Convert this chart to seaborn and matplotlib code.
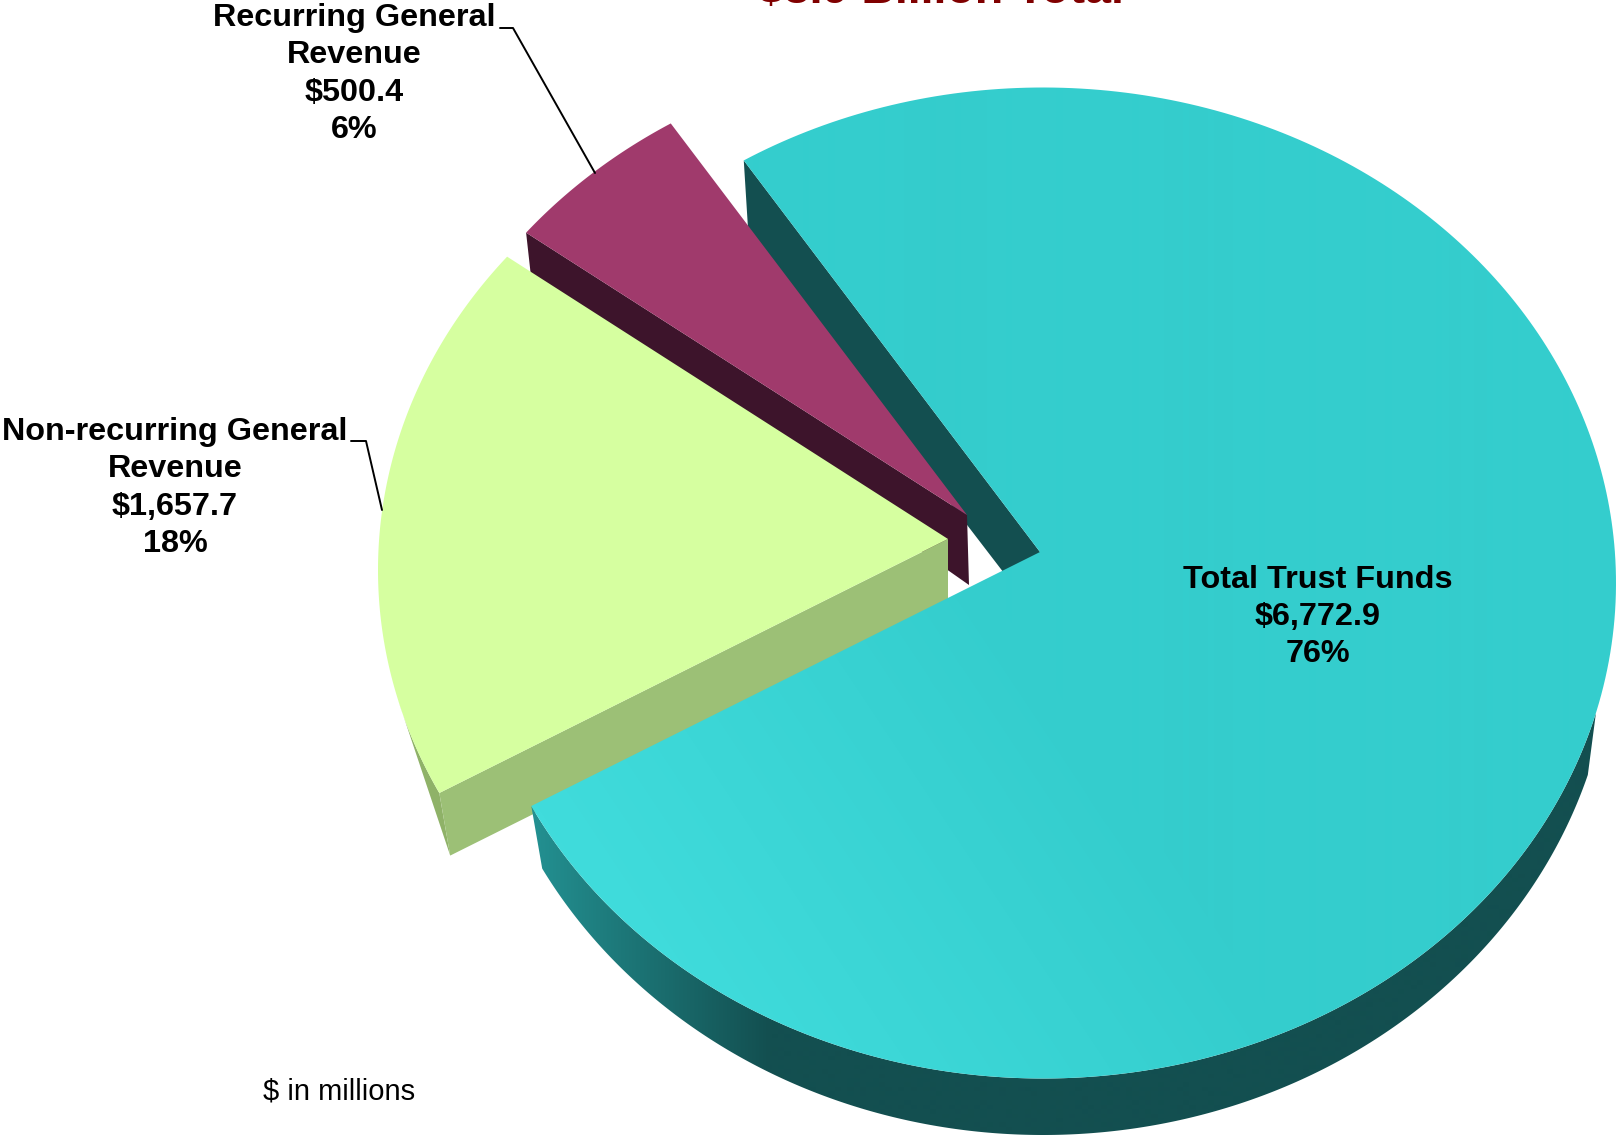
import numpy as np
import matplotlib
matplotlib.use('Agg')
import matplotlib.pyplot as plt
import seaborn as sns
from matplotlib.patches import Polygon
from matplotlib.colors import LinearSegmentedColormap

sources = ['Total Trust Funds', 'Non-recurring General\nRevenue', 'Recurring General\nRevenue']
amounts = [6772.9, 1657.7, 500.4]
percent_labels = ['76%', '18%', '6%']
amount_labels = ['$6,772.9', '$1,657.7', '$500.4']
title_text = '$8.9 Billion Total'
note_text = '$ in millions'

W, H = 1619, 1138
top_ell = (1043, 583, 573, 495.5)
bot_ell = (1043, 625, 570, 510)
apex_top = np.array([1040.0, 552.0])
apex_bot = np.array([1040.0, 620.0])
start_angle = 121.5
offsets = [(0, 0), (-92, -13), (-73, -37)]
top_colors = ['#36cfcf', '#d6ffa0', '#a03a6c']
cut_colors = ['#134f50', '#9cc076', '#3d142b']

sns.set_theme(style='white')
plt.rcParams['font.family'] = ['Liberation Sans', 'DejaVu Sans']


def rim(angles, ell, apex, off):
    cx, cy, rx, ry = ell
    pts = []
    for a in np.radians(angles):
        s = 0.81 if np.sin(a) > 0 else 0.92
        d = np.array([np.cos(a), -np.sin(a) * s])
        ox = (apex[0] - cx) / rx
        oy = (apex[1] - cy) / ry
        dx = d[0] / rx
        dy = d[1] / ry
        qa = dx ** 2 + dy ** 2
        qb = 2 * (ox * dx + oy * dy)
        qc = ox ** 2 + oy ** 2 - 1
        t = (-qb + np.sqrt(qb ** 2 - 4 * qa * qc)) / (2 * qa)
        pts.append(apex + t * d + np.array(off))
    return np.array(pts)


def gradient_fill(ax, pts, img, cmap, zorder):
    patch = Polygon(pts, closed=True, transform=ax.transData, fc='none', ec='none')
    ax.add_patch(patch)
    im = ax.imshow(img, extent=(0, W, H, 0), cmap=cmap, vmin=0, vmax=1, aspect='auto', zorder=zorder, interpolation='bilinear')
    im.set_clip_path(patch)


fig = plt.figure(figsize=(W / 100, H / 100), dpi=100)
ax = fig.add_axes([0, 0, 1, 1])
ax.set_axis_off()

shares = np.array(amounts) / np.sum(amounts)
edges = start_angle - np.concatenate([[0], np.cumsum(shares)]) * 360

# trust funds cut face at the back, then the two pulled out slices
a0, a1 = edges[0], edges[1]
tr = rim([a0], top_ell, apex_top, (0, 0))[0]
br = tr + np.array([5, 80])
ax.fill(*zip(tr, apex_top, apex_bot, br), color=cut_colors[0], lw=0, zorder=1)

# recurring slice
off = np.array(offsets[2])
arc = rim(np.linspace(edges[2], edges[3], 40), top_ell, apex_top, off)
tr = arc[0]
br = tr + np.array([5, 45])
ax.fill(*zip(tr, apex_top + off, apex_bot + off + np.array([2, 2]), br), color=cut_colors[2], lw=0, zorder=2)
ax.fill(*zip(apex_top + off, *arc), color=top_colors[2], lw=0, zorder=3)

# non recurring slice
off = np.array(offsets[1])
angs = np.linspace(edges[1], edges[2], 120)
arc = rim(angs, top_ell, apex_top, off)
arc_b = rim(angs, bot_ell, apex_bot, off)
k = np.argmin(np.abs(arc[:, 1] - 702))
ax.fill(*zip(*np.vstack([arc[:k + 1], arc_b[0]])), color='#8fb268', lw=0, zorder=4)
tr = arc[0]
br = arc_b[0]
ax.fill(*zip(tr, apex_top + off, apex_bot + off, br), color=cut_colors[1], lw=0, zorder=5)
ax.fill(*zip(apex_top + off, *arc), color=top_colors[1], lw=0, zorder=6)

# trust funds outer wall with shading along x, tapering into the rim on the right
angs = np.linspace(a1 + 360, 360, 400)
wall_top = rim(angs, top_ell, apex_top, (0, 0))
wall_bot = rim(angs, bot_ell, apex_bot, (0, 0))
k_top = len(angs) - 1 - np.argmin(np.abs(wall_top[::-1, 1] - 713))
k_bot = np.argmin(np.abs(wall_bot[:, 1] - 775) + 1000 * (wall_bot[:, 0] < 1043))
wall = np.vstack([wall_top[:k_top + 1], wall_bot[:k_bot + 1][::-1]])
xx = np.linspace(0, 1, W)
img = np.clip((xx * W - 530) / 240, 0, 1)[None, :]
wall_cmap = LinearSegmentedColormap.from_list('wall', ['#239192', '#134f50'])
gradient_fill(ax, wall, img, wall_cmap, 7)

# trust funds top face
angs = np.linspace(a0, a1, 300)
arc = rim(angs, top_ell, apex_top, (0, 0))
top = np.vstack([apex_top, arc])
yy, xx = np.mgrid[0:H, 0:W]
img = np.clip(((xx - 530) / 600 + (800 - yy) / 900), 0, 1)
top_cmap = LinearSegmentedColormap.from_list('top', ['#40dcdc', '#34cdcd'])
gradient_fill(ax, top, img, top_cmap, 8)

# leader lines
ax.plot([500, 513, 595], [28, 28, 173], color='black', lw=1.4, zorder=9)
ax.plot([351, 366, 382], [441, 441, 510], color='black', lw=1.4, zorder=9)

fs = 23.3
ax.text(1317.5, 617, sources[0] + '\n' + amount_labels[0] + '\n' + percent_labels[0], ha='center', va='center', fontsize=fs, fontweight='bold', color='black', linespacing=1.32, zorder=10)
ax.text(175, 488, sources[1] + '\n' + amount_labels[1] + '\n' + percent_labels[1], ha='center', va='center', fontsize=fs, fontweight='bold', color='black', linespacing=1.32, zorder=10)
ax.text(354, 74, sources[2] + '\n' + amount_labels[2] + '\n' + percent_labels[2], ha='center', va='center', fontsize=fs, fontweight='bold', color='black', linespacing=1.32, zorder=10)
ax.text(941, 3, title_text, ha='center', va='baseline', fontsize=33.5, fontweight='bold', color='#800000', zorder=10)
ax.text(263, 1092, note_text, ha='left', va='center', fontsize=21, color='black', zorder=10)

ax.set_xlim(0, W)
ax.set_ylim(H, 0)
fig.savefig('out.png', dpi=100, facecolor='white')
